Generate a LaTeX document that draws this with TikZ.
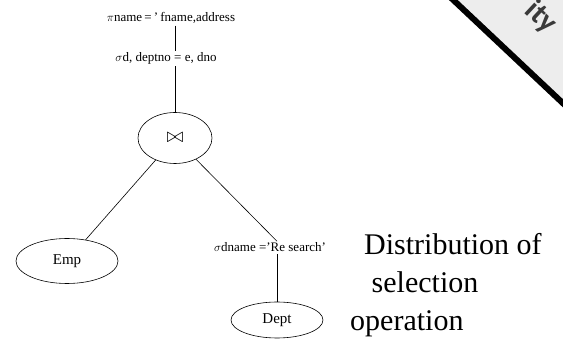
\documentclass[tikz,border=0pt]{standalone}
\usepackage{fontspec}
\setmainfont{Liberation Serif}
\setsansfont{Carlito}
\usetikzlibrary{shapes.geometric,positioning}
\definecolor{stampcol}{HTML}{EDEDED}
\definecolor{stamptxt}{HTML}{3A3A3A}

\begin{document}
\begin{tikzpicture}[x=1pt, y=-1pt,
  lbl/.style  = {inner sep=1.5pt, font=\fontsize{13}{15}\selectfont},
  rel/.style  = {draw, ellipse, inner sep=0pt, line width=0.6pt,
                 font=\fontsize{15}{17}\selectfont},
  edge/.style = {line width=0.6pt},
  note/.style = {align=left, inner sep=0pt, anchor=north west,
                 font=\fontsize{30}{38}\selectfont}]
\useasboundingbox (0,0) rectangle (563,339);

\fill[stampcol] (448,-5) -- (568,-5) -- (568,108) -- cycle;
\draw[line width=6pt] (448,-5) -- (568,108);
\node[font=\sffamily\bfseries\fontsize{30}{32}\selectfont, text=stamptxt,
      rotate=-43] (stamp) at (541,17) {ity};

\node[lbl, anchor=base] (proj) at (171,22) {$\pi$name\,=\,'\,fname,address};
\node[lbl, anchor=base] (sel) at (166,62) {$\sigma$d, deptno = e, dno};
\node[rel, minimum width=74, minimum height=51, font=\fontsize{21}{23}\selectfont]
  (join) at (175,138) {$\bowtie$};
\node[rel, minimum width=102, minimum height=45] (emp) at (67,261) {Emp};
\node[lbl, anchor=base] (seldept) at (270,252) {$\sigma$dname ='Re search'};
\node[rel, minimum width=92, minimum height=36] (dept) at (277,320) {Dept};
\node[note] (caption) at (364,233)
  {Distribution of\\ \ selection\\\hspace*{-14pt}operation};

\draw[edge] (proj.south -| join.north) -- (sel.north -| join.north);
\draw[edge] (sel.south -| join.north) -- (join.north);
\draw[edge] (join) -- (emp);
\draw[edge] (join) -- (seldept.north -| dept.north);
\draw[edge] (seldept.south -| dept.north) -- (dept.north);
\end{tikzpicture}
\end{document}
